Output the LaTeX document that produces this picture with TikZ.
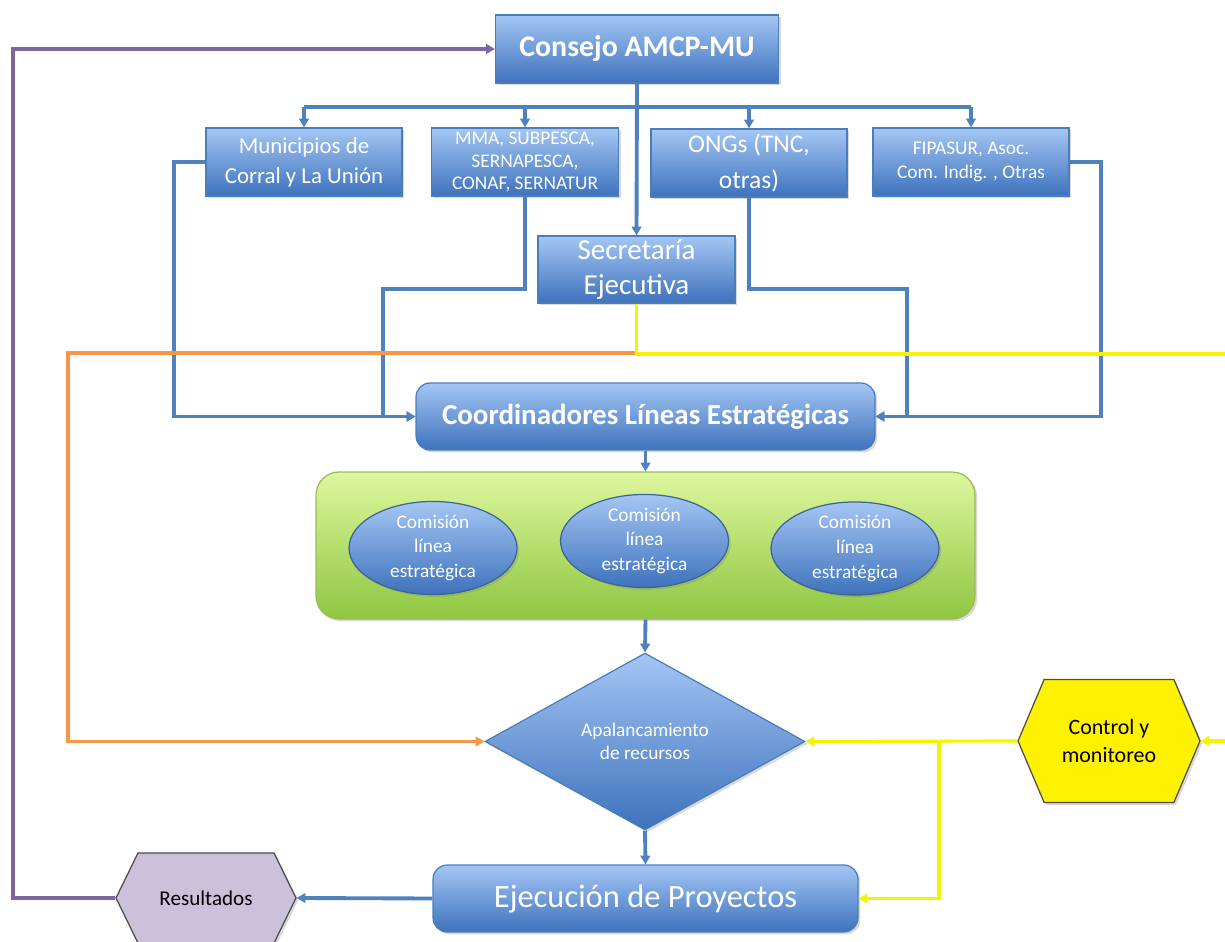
\documentclass[tikz,border=0pt]{standalone}
\usepackage{fontspec}
\setmainfont{Carlito}
\usetikzlibrary{positioning, arrows.meta, shapes.geometric, shapes.symbols, shadows}

\definecolor{azulLinea}{HTML}{4F81BD}
\definecolor{azulBorde}{HTML}{4A7EBB}
\definecolor{azulClaro}{HTML}{A4C6F4}
\definecolor{azulOscuro}{HTML}{3E72BC}
\definecolor{verdeClaro}{HTML}{DDF79E}
\definecolor{verdeOscuro}{HTML}{8FC641}
\definecolor{verdeBorde}{HTML}{9BBB59}
\definecolor{naranja}{HTML}{F79646}
\definecolor{amarillo}{HTML}{F4F400}
\definecolor{morado}{HTML}{7F66A0}
\definecolor{lila}{HTML}{CCC1DA}

\begin{document}
\begin{tikzpicture}[
  x=0.02cm, y=-0.02cm,    % 1 unidad = 1 px de la figura
  >={Triangle[length=5pt, width=5.5pt]},
  sombra/.style={drop shadow={shadow xshift=1.3pt, shadow yshift=-1.3pt, opacity=0.3}},
  caja/.style={draw=azulBorde, line width=0.7pt, top color=azulClaro, bottom color=azulOscuro,
               text=white, align=center, inner sep=2pt, sombra},
  comision/.style={ellipse, draw=azulBorde!80!black, line width=0.7pt, top color=azulClaro,
               bottom color=azulOscuro, text=white, align=center, inner sep=0pt,
               minimum width=3.36cm, minimum height=1.82cm,
               font=\fontsize{11}{14}\selectfont, sombra},
  hexa/.style={signal, signal to=west and east, draw=gray!60!black, line width=0.7pt,
               align=center, inner sep=0pt, sombra},
  conector/.style={azulLinea, line width=2.2pt},
  naranjaLinea/.style={naranja, line width=1.8pt},
  amarilloLinea/.style={amarillo, line width=1.8pt},
  moradoLinea/.style={morado, line width=2.2pt}
  ]

  \useasboundingbox (0,0) rectangle (1225,942);

  % --- Consejo y organismos ---
  \node [caja, minimum width=5.66cm, minimum height=1.36cm,
         font=\fontsize{17}{20}\bfseries] (consejo) at (637,49) {Consejo AMCP-MU};

  \node [caja, minimum width=3.92cm, minimum height=1.36cm,
         font=\fontsize{13}{17}\selectfont] (municipios) at (304,162)
        {Municipios de\\Corral y La Unión};
  \node [caja, minimum width=3.74cm, minimum height=1.36cm,
         font=\fontsize{11}{13}\selectfont] (mma) at (525,162)
        {MMA, SUBPESCA,\\SERNAPESCA,\\CONAF, SERNATUR};
  \node [caja, minimum width=3.92cm, minimum height=1.36cm,
         font=\fontsize{14.5}{20}\selectfont] (ongs) at (749,163)
        {ONGs (TNC,\\otras)};
  \node [caja, minimum width=3.92cm, minimum height=1.36cm,
         font=\fontsize{11}{13.5}\selectfont] (fipasur) at (971,162)
        {FIPASUR, Asoc.\\Com. Indig. , Otras};

  \node [caja, minimum width=3.94cm, minimum height=1.34cm,
         font=\fontsize{16.5}{20}\selectfont] (secretaria) at (636.5,269.5)
        {Secretaría\\Ejecutiva};

  % --- Coordinadores y comisiones ---
  \node [caja, rounded corners=8pt, minimum width=9.18cm, minimum height=1.34cm,
         font=\fontsize{16.5}{19}\bfseries] (coordinadores) at (645.5,416.5)
        {Coordinadores Líneas Estratégicas};

  \node [draw=verdeBorde, line width=0.7pt, rounded corners=13pt, top color=verdeClaro,
         bottom color=verdeOscuro, minimum width=13.18cm, minimum height=2.94cm, sombra]
        (verde) at (645.5,545.5) {};
  \node [comision] (comision1) at (433,548) {Comisión\\línea\\estratégica};
  \node [comision] (comision2) at (644.5,541) {Comisión\\línea\\estratégica};
  \node [comision] (comision3) at (855,548.5) {Comisión\\línea\\estratégica};

  % --- Apalancamiento y ejecución ---
  \node [diamond, aspect=1.8, draw=azulBorde, line width=0.7pt, top color=azulClaro,
         bottom color=azulOscuro, text=white, align=center, inner sep=0pt,
         minimum width=6.4cm, minimum height=3.54cm, sombra,
         font=\fontsize{11}{13}\selectfont] (diamante) at (645,741.5)
        {Apalancamiento\\de recursos};

  \node [caja, rounded corners=8pt, minimum width=8.5cm, minimum height=1.34cm,
         font=\fontsize{18.5}{22}\selectfont] (ejecucion) at (645.5,898.5)
        {Ejecución de Proyectos};

  \node [hexa, fill=lila, signal pointer angle=128, minimum width=3.6cm, minimum height=1.8cm,
         font=\fontsize{12}{14}\selectfont] (resultados) at (206,898) {Resultados};
  \node [hexa, fill=yellow, signal pointer angle=134, minimum width=3.64cm, minimum height=2.46cm,
         font=\fontsize{12.5}{15.5}\selectfont] (control) at (1109,741) {Control y\\monitoreo};

  % --- conectores azules ---
  \coordinate (rama) at (637,107);
  \draw [conector, ->] (consejo.south) -- (secretaria.north);
  \draw [conector] (municipios.north |- rama) -- (fipasur.north |- rama);
  \foreach \org in {municipios, mma, ongs, fipasur}
    \draw [conector, ->] (\org.north |- rama) -- (\org.north);

  \draw [conector, ->] (municipios.west) -- ++(-31,0) |- (coordinadores.west);
  \draw [conector, ->] (mma.south) |- (383,289) |- (coordinadores.west);
  \draw [conector, ->] (ongs.south) |- (907,289) |- (coordinadores.east);
  \draw [conector, ->] (fipasur.east) -- ++(31,0) |- (coordinadores.east);

  \draw [conector, ->] (coordinadores.south) -- (verde.north);
  \draw [conector, ->] (verde.south) -- (diamante.north);
  \draw [conector, ->] (diamante.south) -- (ejecucion.north);
  \draw [conector, ->] (ejecucion.west) -- (resultados.east);

  % --- retroalimentacion ---
  \draw [moradoLinea, ->] (resultados.west) -- ++(-102,0) |- (consejo.west);
  \draw [naranjaLinea, ->] (secretaria.south) |- (68,353) |- (diamante.west);
  \draw [amarilloLinea, ->] (secretaria.south) |- (1245,354) |- (control.east);

  \coordinate (rama2) at (939,741);
  \draw [amarilloLinea, ->] (control.west) -- (diamante.east);
  \draw [amarilloLinea, ->] (rama2) |- (ejecucion.east);

\end{tikzpicture}
\end{document}
